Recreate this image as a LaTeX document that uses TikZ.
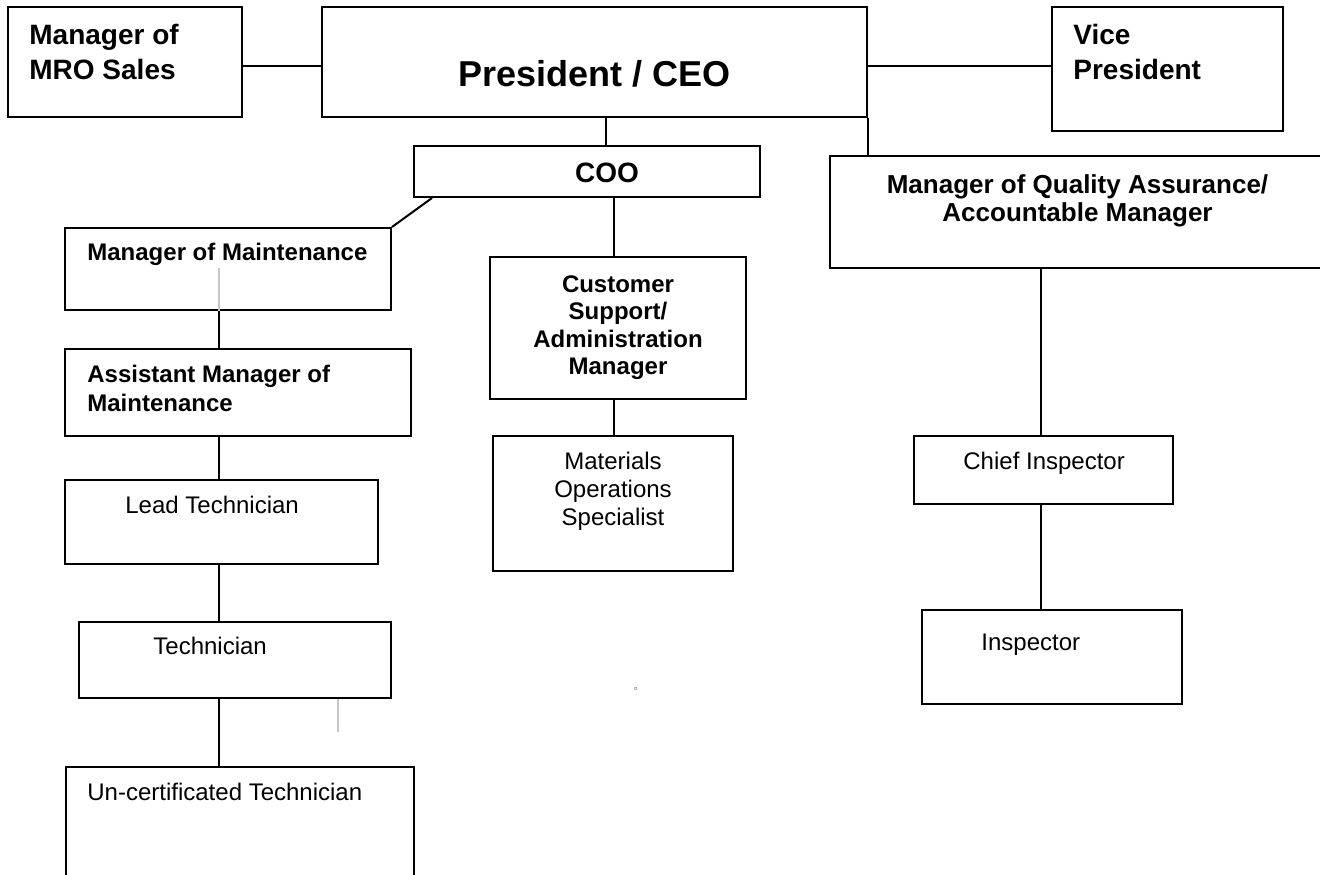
\documentclass[tikz,border=0pt]{standalone}
\usepackage{fontspec}
\setmainfont{Liberation Sans}
\begin{document}
\begin{tikzpicture}[x=0.5pt,y=-0.5pt,
  box/.style={draw,line width=1pt,inner sep=0pt},
  top/.style={inner sep=0pt,align=left,font=\fontsize{14pt}{17.5pt}\selectfont\bfseries},
  mgr/.style={inner sep=0pt,align=left,font=\fontsize{12pt}{14pt}\selectfont\bfseries},
  staff/.style={inner sep=0pt,align=center,font=\fontsize{12pt}{14pt}\selectfont},
  faint/.style={gray!45,line width=0.6pt}]
\useasboundingbox (0,0) rectangle (1320,874);
\clip (0,0) rectangle (1320,874);
% boxes
\node[box,minimum width=117pt,minimum height=55pt] (mro) at (125,62) {};
\node[box,minimum width=272.5pt,minimum height=55pt] (ceo) at (594.5,62) {};
\node[box,minimum width=115.5pt,minimum height=62pt] (vp) at (1167.5,69) {};
\node[box,minimum width=173pt,minimum height=25.5pt] (coo) at (587,171.5) {};
\node[box,minimum width=255pt,minimum height=56pt] (qa) at (1085,212) {};
\node[box,minimum width=163pt,minimum height=41pt] (mm) at (228,269) {};
\node[box,minimum width=128pt,minimum height=71pt] (cust) at (618,328) {};
\node[box,minimum width=173pt,minimum height=43.5pt] (am) at (238,392.5) {};
\node[box,minimum width=120pt,minimum height=67.5pt] (mat) at (613,503.5) {};
\node[box,minimum width=156.5pt,minimum height=42pt] (lead) at (221.5,522) {};
\node[box,minimum width=156pt,minimum height=38pt] (tech) at (235,660) {};
\node[box,minimum width=174pt,minimum height=70pt] (uncert) at (240,837) {};
\node[box,minimum width=129.5pt,minimum height=34pt] (chief) at (1043.5,470) {};
\node[box,minimum width=130pt,minimum height=47pt] (insp) at (1052,657) {};
% titles (multi-line ones sit on their last baseline)
\node[top,anchor=base west] (mro-text) at (29,79) {Manager of\\MRO Sales};
\node[top,anchor=base,font=\fontsize{18pt}{21pt}\selectfont\bfseries] (ceo-text) at (594.5,86) {President / CEO};
\node[top,anchor=base west] (vp-text) at (1073,79) {Vice\\President};
\node[top,anchor=base] (coo-text) at (607,182) {COO};
\node[mgr,anchor=base,align=center,font=\fontsize{13pt}{14pt}\selectfont\bfseries] (qa-text) at (1077.5,221) {Manager of Quality Assurance/\\Accountable Manager};
\node[mgr,anchor=base west] (mm-text) at (87,260) {Manager of Maintenance};
\node[mgr,anchor=base,align=center,font=\fontsize{12pt}{13.75pt}\selectfont\bfseries] (cust-text) at (618,374.5) {Customer\\Support/\\Administration\\Manager};
\node[mgr,anchor=base west,font=\fontsize{12pt}{14.5pt}\selectfont\bfseries] (am-text) at (87,411) {Assistant Manager of\\Maintenance};
\node[staff,anchor=base] (mat-text) at (613,525) {Materials\\Operations\\Specialist};
\node[staff,anchor=base west] (lead-text) at (125,513) {Lead Technician};
\node[staff,anchor=base west] (tech-text) at (153,654) {Technician};
\node[staff,anchor=base west] (uncert-text) at (87,800) {Un-certificated Technician};
\node[staff,anchor=base west] (chief-text) at (963,469) {Chief Inspector};
\node[staff,anchor=base west] (insp-text) at (981,650) {Inspector};
% lines
\coordinate (rail) at (0,66);
\coordinate (ceo-drop) at (606,0);
\coordinate (mid-drop) at (614,0);
\coordinate (spine) at (219,0);
\coordinate (qa-drop) at (1041,0);
\begin{scope}[line width=1pt]
\draw (mro.east |- rail) -- (ceo.west |- rail);
\draw (ceo.east |- rail) -- (vp.west |- rail);
\draw (ceo.south east) -- (ceo.south east |- qa.north);
\draw (ceo.south -| ceo-drop) -- (coo.north -| ceo-drop);
\draw ([xshift=9.5pt]coo.south west) -- (mm.north east);
\draw (coo.south -| mid-drop) -- (cust.north -| mid-drop);
\draw (cust.south -| mid-drop) -- (mat.north -| mid-drop);
\foreach \a/\b in {mm/am,am/lead,lead/tech,tech/uncert}
  \draw (\a.south -| spine) -- (\b.north -| spine);
\foreach \a/\b in {qa/chief,chief/insp}
  \draw (\a.south -| qa-drop) -- (\b.north -| qa-drop);
\end{scope}
% stray marks
\draw[faint] (mm.south -| spine) -- ++(0,-43);
\draw[faint] (tech.south -| 338,0) -- ++(0,33);
\draw[gray!60,line width=0.3pt] (634,687) rectangle (636,689);
\end{tikzpicture}
\end{document}
